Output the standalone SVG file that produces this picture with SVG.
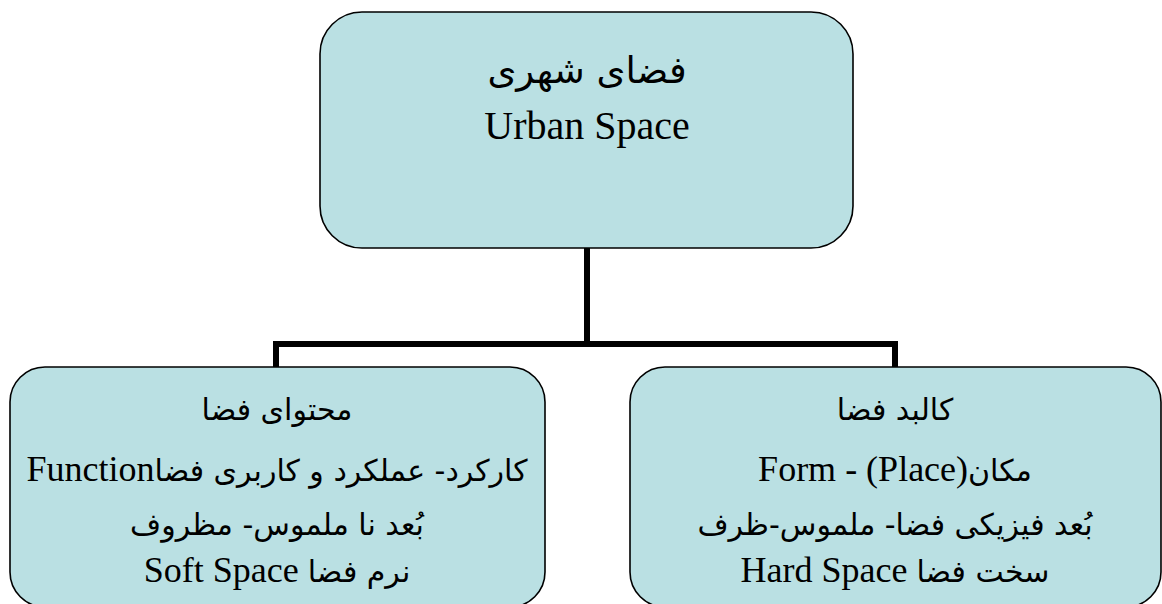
<svg xmlns="http://www.w3.org/2000/svg" width="1162" height="604" viewBox="0 0 1162 604">
<style>
.box{fill:#BAE0E3;stroke:#000;stroke-width:1.6}
.conn{fill:none;stroke:#000;stroke-width:6}
text{font-family:"Liberation Serif","Times New Roman",Tinos,"DejaVu Serif",serif;fill:#000;text-anchor:middle;direction:rtl;font-size:36px}
.big{font-size:40px}
.fa{font-family:"DejaVu Sans",sans-serif;font-size:30px}
.fah{font-family:"DejaVu Sans",sans-serif;font-size:37px}
</style>
<rect width="1162" height="604" fill="#fff"/>
<g id="connectors">
<path class="conn" d="M587,248 V344 M276,344 H895 M276,341 V367 M895,341 V367"/>
</g>
<g id="urban-space">
<rect class="box" x="320" y="12" width="533" height="236" rx="42" ry="42"/>
<text x="587" y="83"><tspan class="fah">فضای شهری</tspan></text>
<text class="big" x="587" y="139">Urban Space</text>
</g>
<g id="content">
<rect class="box" x="10" y="367" width="535" height="240" rx="35" ry="35"/>
<text x="277" y="420"><tspan class="fa">محتوای فضا</tspan></text>
<text x="277" y="481"><tspan class="fa">کارکرد- عملکرد و کاربری فضا</tspan>Function</text>
<text x="277" y="535"><tspan class="fa">بُعد نا ملموس- مظروف</tspan></text>
<text x="277" y="582"><tspan class="fa">نرم فضا</tspan> Soft Space</text>
</g>
<g id="form">
<rect class="box" x="630" y="367" width="531" height="240" rx="35" ry="35"/>
<text x="895" y="420"><tspan class="fa">کالبد فضا</tspan></text>
<text x="895" y="481"><tspan class="fa">مکان</tspan>(Place)&#x200F; - Form</text>
<text x="895" y="535"><tspan class="fa">بُعد فیزیکی فضا- ملموس-ظرف</tspan></text>
<text x="895" y="582"><tspan class="fa">سخت فضا</tspan> Hard Space</text>
</g>
</svg>
